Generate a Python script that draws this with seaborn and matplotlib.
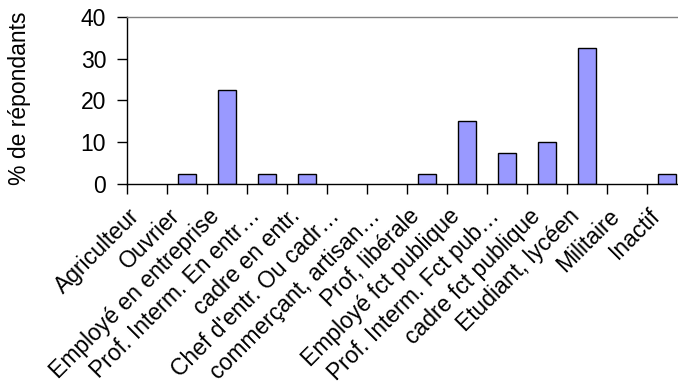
import matplotlib
matplotlib.use("Agg")
import matplotlib.pyplot as plt
import matplotlib.transforms as mtransforms
import seaborn as sns
import numpy as np
import pandas as pd

categories = [
    "Agriculteur", "Ouvrier", "Employé en entreprise", "Prof. Interm. En entr…",
    "cadre en entr.", "Chef d'entr. Ou cadr…", "commerçant, artisan…",
    "Prof, libérale", "Employé fct publique", "Prof. Interm. Fct pub…",
    "cadre fct publique", "Etudiant, lycéen", "Militaire", "Inactif",
]
values = [0, 2.5, 22.5, 2.5, 2.5, 0, 0, 2.5, 15, 7.5, 10, 32.5, 0, 2.5]
yticks = [0, 10, 20, 30, 40]

sns.set_theme(style="white")
plt.rcParams["font.family"] = ["Liberation Sans", "DejaVu Sans"]
plt.rcParams["text.color"] = "black"
plt.rcParams["xtick.color"] = "black"
plt.rcParams["ytick.color"] = "black"
plt.rcParams["axes.labelcolor"] = "black"

df = pd.DataFrame({"cat": categories, "val": values})

fig = plt.figure(figsize=(6.78, 3.91), dpi=100)
ax = fig.add_axes([127 / 678, 1 - 184 / 391, (687 - 127) / 678, (184 - 16.7) / 391])

sns.barplot(data=df, x="cat", y="val", color="#9999FF", saturation=1,
            width=0.43, edgecolor="black", linewidth=1, ax=ax)

# empty categories get no outline
for patch in ax.patches:
    if patch.get_height() == 0:
        patch.set_linewidth(0)

fs = 16.5
ax.set_xlim(-0.5, len(categories) - 0.5)
ax.set_ylim(0, 40)
ax.set_yticks(yticks)
ax.set_yticklabels([str(t) for t in yticks], fontsize=fs)
ax.set_xticks(range(len(categories)))
ax.set_xticklabels(categories, rotation=45, ha="right", va="baseline",
                   rotation_mode="anchor", fontsize=fs)
ax.set_xticks(np.arange(-0.5, len(categories)), minor=True)
ax.tick_params(axis="x", which="major", length=0, pad=26)
ax.tick_params(axis="x", which="minor", length=7, width=1, color="black",
               direction="out", bottom=True)
ax.tick_params(axis="y", length=7, width=1, color="black", direction="out",
               left=True, pad=8)

# nudge the slanted category labels slightly left and up
shift = mtransforms.ScaledTranslation(-6 / 100, 3 / 100, fig.dpi_scale_trans)
for lbl in ax.get_xticklabels():
    lbl.set_transform(lbl.get_transform() + shift)

ax.set_xlabel("")
ax.set_ylabel("")
fig.text(20 / 678, 1 - 98 / 391, "% de répondants", rotation=90,
         ha="center", va="center", fontsize=fs)

for side in ["left", "bottom"]:
    ax.spines[side].set_color("black")
    ax.spines[side].set_linewidth(1)
ax.spines["top"].set_color("#808080")
ax.spines["top"].set_linewidth(1)
ax.spines["right"].set_visible(False)

fig.savefig("out.png", dpi=100)
